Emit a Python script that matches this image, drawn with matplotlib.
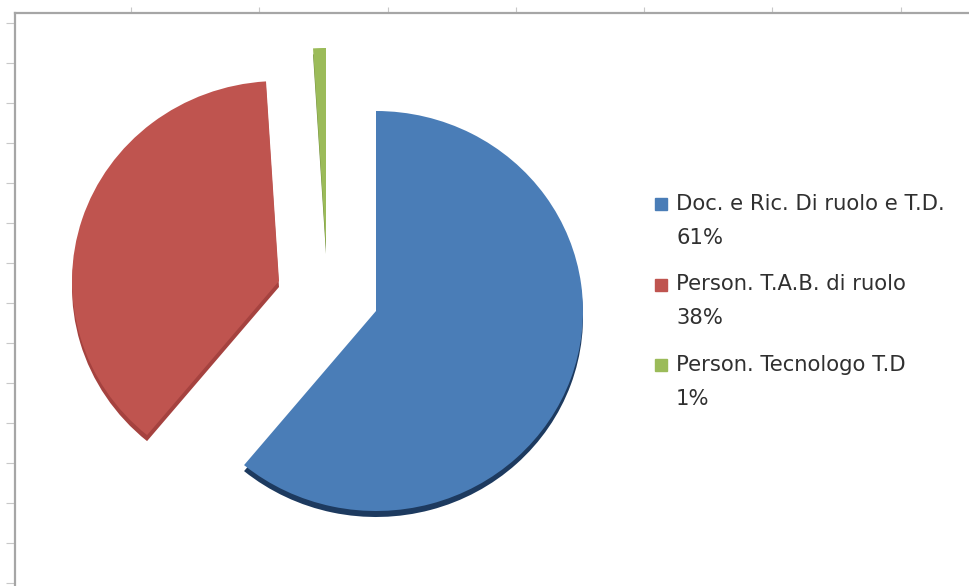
import matplotlib
matplotlib.use("Agg")
from matplotlib import pyplot as plt

labels = ["Doc. e Ric. Di ruolo e T.D.", "Person. T.A.B. di ruolo", "Person. Tecnologo T.D"]
values = [61, 38, 1]
colors = ["#4a7db7", "#bf544f", "#9bbb59"]
side_colors = ["#1d3a5f", "#a5423f", "#6f8a3c"]

# figure geometry, all in reference pixels
width, height = 970, 586
left, top = 15, 13
radius = 207
squash = 207 / 200  # the 3d tilt makes the pie a bit flatter than a circle
depth = 6

# where each exploded slice has its tip
tips = [(376, 311), (279, 281), (326, 248)]


def to_y(py):
    return (height - py) * squash


fig = plt.figure(figsize=(width / 100, height / 100), dpi=100)
ax = fig.add_axes([left / width, 0, 1 - left / width, 1 - top / height])

# darker copy underneath gives the edge of the 3d pie
under, _ = ax.pie(values, colors=side_colors, startangle=90, counterclock=False,
                  radius=radius, frame=True, wedgeprops={"linewidth": 0})
over, _ = ax.pie(values, colors=colors, startangle=90, counterclock=False,
                 radius=radius, frame=True, wedgeprops={"linewidth": 0})
for wedge, (tx, ty) in zip(under, tips):
    wedge.set_center((tx, to_y(ty + depth)))
for wedge, (tx, ty) in zip(over, tips):
    wedge.set_center((tx, to_y(ty)))

ax.set_aspect("auto")
ax.set_xlim(left, width)
ax.set_ylim(0, to_y(top))

# unlabelled axis frame left over from the spreadsheet
ax.set_frame_on(True)
for name in ["right", "bottom"]:
    ax.spines[name].set_visible(False)
for name in ["top", "left"]:
    ax.spines[name].set_color("#a6a6a6")
    ax.spines[name].set_linewidth(1.6)
ax.xaxis.tick_top()
ax.set_xticks([131, 259, 388, 516, 644, 772, 901])
ax.set_yticks([to_y(p) for p in range(23, 586, 40)])
ax.tick_params(axis="x", length=4.5, width=0.8, color="#c8c8c8", labeltop=False, top=True, bottom=False)
ax.tick_params(axis="y", length=6.5, width=0.8, color="#c8c8c8", labelleft=False, left=True)

# legend, two lines per entry
for i, (label, value, color) in enumerate(zip(labels, values, colors)):
    py = 204 + i * 80.5
    ax.plot([661], [to_y(py)], marker="s", markersize=9, color=color, linestyle="none",
            clip_on=False)
    ax.text(676, to_y(py), label, fontsize=15.2, color="#303030", va="center", ha="left",
            family="DejaVu Sans")
    ax.text(676, to_y(py + 34), "{}%".format(value), fontsize=15.2, color="#303030",
            va="center", ha="left", family="DejaVu Sans")

fig.savefig("out.png", dpi=100)
